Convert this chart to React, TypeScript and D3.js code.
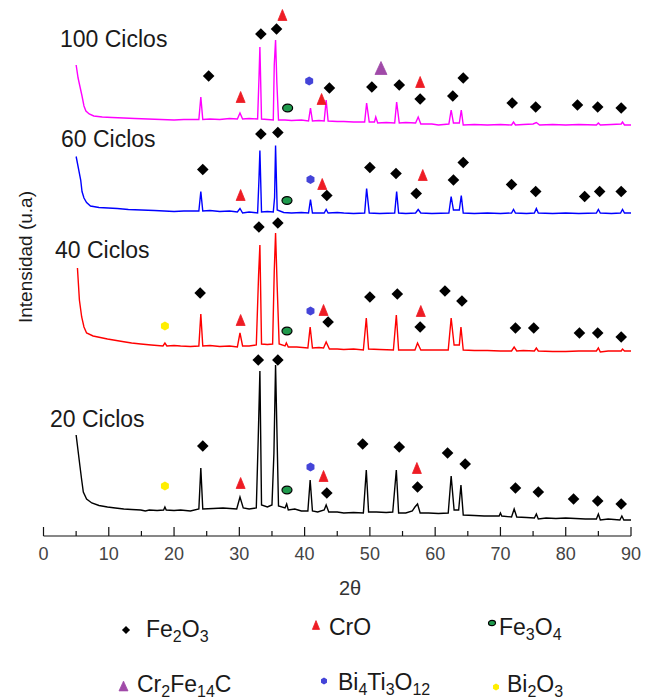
import React from "react";
import * as d3 from "d3";

// ---------- DATA ----------
const seriesNames = ["20 Ciclos", "40 Ciclos", "60 Ciclos", "100 Ciclos"];
const seriesOffsets = [16, 185, 322.5, 411];
const xTicks = [0, 10, 20, 30, 40, 50, 60, 70, 80, 90];

// [2θ, relative intensity (u.a)]
const xrd20: [number, number][] = [
  [5.0, 85], [5.6, 53], [5.85, 40], [6.1, 28], [6.6, 21], [7.4, 17], [8.5, 14.5], [9.8, 13],
  [11, 12], [12.3, 11], [13.5, 10.5], [14.9, 10], [15.6, 9], [16.2, 10], [17.4, 9.5],
  [18.4, 10], [18.6, 13], [18.8, 10], [20, 9.5], [21, 10], [22.5, 9], [23.8, 11], [24.1, 52],
  [24.4, 11], [26, 11.5], [27.5, 12], [29.6, 11], [30.1, 23], [30.6, 12], [31.5, 11],
  [32.6, 12], [32.9, 83], [33.15, 149], [33.4, 15], [34.3, 13], [35.0, 15], [35.3, 67],
  [35.55, 155], [35.75, 92], [36.0, 14], [37.0, 12], [37.25, 16], [37.5, 10], [38.5, 11],
  [39.5, 9], [40.5, 9], [40.85, 40], [41.2, 9], [42.0, 8], [43.0, 10], [43.3, 15], [43.7, 8],
  [45, 8], [46, 7], [47.5, 7.5], [49.0, 7], [49.45, 50], [49.8, 8], [51, 8], [52.5, 7.5],
  [53.5, 8], [54.05, 50], [54.4, 7], [55.5, 7], [56.5, 9], [56.9, 13], [57.3, 16], [57.7, 7],
  [59, 7], [60.5, 6.5], [62.0, 7], [62.45, 44], [62.9, 10], [63.6, 10], [63.95, 35], [64.3, 5],
  [66, 4.5], [67.5, 4], [69.8, 4], [70.0, 7], [70.2, 4], [71.7, 3], [72.1, 11], [72.5, 3],
  [74, 2.5], [75.2, 2], [75.5, 6], [75.8, 1], [77, 2], [78.5, 1.5], [80, 2], [81.5, 1.5],
  [83, 1], [84.7, 1], [85.0, 6], [85.3, 0], [86.5, 1], [88.3, 0], [88.6, 4], [88.9, 0], [90, 0]
];
const xrd40: [number, number][] = [
  [5.2, 83], [5.5, 51], [5.85, 34], [6.2, 24], [6.6, 18], [7.6, 15], [9.8, 12], [12.3, 9.3],
  [13.5, 8], [14.9, 7], [16.5, 6], [18.3, 5], [18.6, 8], [18.9, 5], [20, 5.5], [21, 5],
  [22.5, 4.5], [23.8, 5], [24.1, 37], [24.4, 5], [25.5, 5.5], [27, 4.5], [28.5, 5], [29.7, 4],
  [30.1, 18], [30.5, 5], [31.5, 5], [32.6, 6], [32.95, 76], [33.15, 106], [33.4, 7],
  [34.3, 6.5], [35.1, 7], [35.35, 80], [35.55, 118], [35.8, 64], [36.1, 7], [37.0, 5],
  [37.2, 8], [37.5, 4], [38.8, 4], [40.5, 3], [40.85, 24], [41.2, 3], [42.2, 3.5], [42.9, 3],
  [43.3, 9], [43.8, 2], [45, 2], [46, 1.5], [47.5, 2], [49.0, 1], [49.45, 33], [49.8, 2],
  [51.5, 1.5], [53.6, 1], [54.05, 36], [54.4, 1], [56.9, 1], [57.3, 8], [57.8, 1], [59.5, 1],
  [62.0, 1], [62.45, 33], [62.9, 6], [63.7, 6], [63.95, 24], [64.3, 1], [66, 0.5], [68, 0.5],
  [70, 0], [71.7, 0], [72.1, 4], [72.5, 0], [73.5, 0.5], [75.2, 0], [75.5, 3], [75.8, 0],
  [78, -0.5], [80, -0.5], [82, 0], [84.7, 0], [85.0, 3], [85.3, -1], [86.5, 0], [88.5, 0],
  [88.7, 2], [89, 0], [90, 0]
];
const xrd60: [number, number][] = [
  [5.0, 57], [5.7, 33.5], [5.9, 22], [6.2, 15.5], [6.6, 11], [7.2, 7.5], [8.5, 6], [11.3, 5],
  [13, 4], [15, 3.5], [17, 3], [20, 2], [21.5, 2.5], [23.8, 2.5], [24.1, 22], [24.4, 2.5],
  [25.5, 3], [27, 2], [28.5, 2.5], [29.7, 1.5], [30.1, 5], [30.5, 0.5], [31.5, 1.5],
  [32.8, 0.5], [33.0, 33], [33.15, 63], [33.4, 1.5], [34.3, 2], [35.2, 1.5], [35.4, 16],
  [35.55, 68], [35.8, 3.5], [36.8, 1], [38, 0.5], [39.5, 1], [40.6, 0.5], [40.9, 14],
  [41.2, 0.5], [43.0, 0.5], [43.3, 4], [43.6, 0.5], [45, 1], [46, 0.5], [47.5, 0], [49.2, 0.5],
  [49.5, 25], [49.9, 0.5], [51.5, 0], [53.8, 0.5], [54.1, 22], [54.4, 0.5], [55.5, 0],
  [57.0, 0.5], [57.4, 4], [57.8, 0.5], [59.5, 0], [62.1, 0.5], [62.45, 17], [62.8, 3.5],
  [63.7, 3.5], [64.0, 18], [64.3, 0.5], [66, 0], [68, 0.5], [70, 0], [71.7, 0.5], [72.0, 4],
  [72.3, 0.5], [74, 0], [75.2, 0.5], [75.5, 5], [75.8, 0.5], [78, 0], [80, 0.5], [82, 0],
  [84.7, 0.5], [85.0, 4], [85.3, 0.5], [87, 0], [88.4, 0.5], [88.7, 4], [89.0, 0.5], [90, 0.5]
];
const xrd100: [number, number][] = [
  [5.0, 60], [5.3, 47], [5.6, 38], [5.9, 29], [6.2, 19], [6.5, 14], [7.0, 11], [7.7, 9],
  [9, 8], [10.5, 7.5], [12.3, 7], [14, 6.5], [16, 6], [18, 5.5], [20, 5], [21.5, 5.5],
  [23.8, 5.5], [24.1, 28], [24.4, 5.5], [25.5, 6], [27, 5.5], [28.5, 6.5], [29.7, 6],
  [30.1, 12], [30.5, 6], [31.5, 6.5], [32.8, 6], [33.0, 45], [33.15, 78], [33.4, 6],
  [34.3, 5.5], [35.2, 5], [35.35, 60], [35.55, 85], [35.75, 42], [36.0, 5], [37, 5],
  [38, 4.5], [39.5, 5], [40.6, 4], [40.9, 17], [41.2, 4], [42.2, 4.5], [43.0, 4], [43.3, 25],
  [43.6, 4], [45, 3.5], [46, 3.5], [47.5, 3], [49.2, 3], [49.5, 22], [49.9, 3], [50.7, 3],
  [50.9, 8], [51.2, 2], [52.5, 2.5], [53.8, 2], [54.1, 23], [54.5, 2], [55.5, 2.5], [57.0, 2],
  [57.4, 8], [57.8, 1], [59.5, 1], [60.5, 0], [62.1, 1], [62.45, 15], [62.8, 2], [63.7, 2],
  [64.0, 15], [64.3, 0], [66, 0.5], [68, 0], [70, 0.5], [71.7, 0], [72.0, 3], [72.3, 0],
  [73.5, 0.5], [75.0, 1], [75.5, 2.5], [76.0, 0], [78, 0.5], [80, 0], [82, 0.5], [84.7, 0],
  [85.0, 2], [85.3, 0], [87, 0.5], [88.5, 1], [88.7, 3], [89.0, 0], [90, 0]
];
const xrdSeries = [xrd20, xrd40, xrd60, xrd100];

// phase markers: [series index, 2θ, relative intensity]
const fe2o3Marks: [number, number, number][] = [
  [0, 24.4, 74], [0, 32.9, 160], [0, 35.9, 160], [0, 43.4, 27], [0, 48.9, 76], [0, 54.5, 73],
  [0, 57.3, 33], [0, 61.9, 67], [0, 64.6, 56], [0, 72.3, 32], [0, 75.8, 28], [0, 81.2, 21],
  [0, 84.9, 19], [0, 88.5, 16],
  [1, 24.0, 58], [1, 33.0, 124], [1, 35.9, 128], [1, 43.6, 29], [1, 50.0, 54], [1, 54.2, 57],
  [1, 57.7, 24], [1, 61.5, 60], [1, 64.1, 50], [1, 72.3, 23], [1, 75.1, 23], [1, 82.1, 18],
  [1, 84.9, 18], [1, 88.5, 14],
  [2, 24.4, 44], [2, 33.3, 79.5], [2, 35.9, 81], [2, 43.4, 18], [2, 50.0, 46], [2, 54.0, 40],
  [2, 57.1, 20], [2, 62.8, 33.5], [2, 64.3, 51], [2, 71.7, 29], [2, 75.4, 22], [2, 82.9, 17],
  [2, 85.2, 22], [2, 88.5, 22],
  [3, 25.3, 49], [3, 33.3, 91], [3, 35.7, 96], [3, 43.8, 37], [3, 50.3, 38], [3, 54.5, 40],
  [3, 57.7, 26], [3, 62.7, 29], [3, 64.3, 47], [3, 71.8, 22], [3, 75.4, 18], [3, 81.8, 20],
  [3, 84.9, 18], [3, 88.5, 17]
];
const croMarks: [number, number, number][] = [
  [0, 30.2, 37], [0, 42.9, 44], [0, 57.2, 52],
  [1, 30.2, 31], [1, 42.9, 41], [1, 57.8, 40],
  [2, 30.2, 18.5], [2, 42.7, 29.5], [2, 58.1, 38.5],
  [3, 30.2, 28], [3, 36.6, 110], [3, 42.6, 26], [3, 57.7, 43]
];
const fe3o4Marks: [number, number, number][] = [
  [0, 37.3, 30], [1, 37.3, 20], [2, 37.3, 13], [3, 37.4, 17]
];
const bi4ti3o12Marks: [number, number, number][] = [
  [0, 40.9, 53], [1, 40.9, 40], [2, 40.9, 34], [3, 40.7, 44]
];
const bi2o3Marks: [number, number, number][] = [
  [0, 18.6, 34], [1, 18.6, 25]
];
const cr2fe14cMarks: [number, number, number][] = [
  [3, 51.7, 57]
];

// ---------- LAYOUT ----------
const W = 653;
const H = 699;
const seriesColors = ["#000000", "#ff0000", "#0000ff", "#ff00ff"];
const labelPos = [
  { x: 50, y: 427 },
  { x: 55, y: 258 },
  { x: 61, y: 147 },
  { x: 60, y: 47 }
];
const FONT = "'Liberation Sans', Arial, sans-serif";

const diamondPath = (s: number) => `M0,${-s} L${s},0 L0,${s} L${-s},0 Z`;
const triPath = (w: number, h: number) =>
  `M0,${-h / 2} L${w / 2},${h / 2} L${-w / 2},${h / 2} Z`;
const hexPath = (r: number) => {
  const pts = d3.range(6).map((i) => {
    const a = (Math.PI / 3) * i + Math.PI / 6;
    return `${(r * Math.cos(a)).toFixed(2)},${(r * Math.sin(a)).toFixed(2)}`;
  });
  return `M${pts.join(" L")} Z`;
};

function Marker({ kind, scale = 1 }: { kind: string; scale?: number }) {
  switch (kind) {
    case "fe2o3":
      return <path d={diamondPath(5.8 * scale)} fill="#000" />;
    case "cro":
      return <path d={triPath(9 * scale, 11 * scale)} fill="#ee1c24" stroke="#ee1c24" strokeWidth={0.8} strokeLinejoin="round" />;
    case "fe3o4":
      return <ellipse rx={5 * scale} ry={3.8 * scale} fill="#1f9a4c" stroke="#000" strokeWidth={1.2} />;
    case "bi4":
      return <path d={hexPath(4.6 * scale)} fill="#4444d8" />;
    case "bi2o3":
      return <path d={hexPath(4.6 * scale)} fill="#ffee00" />;
    case "cr2fe14c":
      return <path d={triPath(12 * scale, 13 * scale)} fill="#a04aa8" stroke="#a04aa8" strokeWidth={0.8} strokeLinejoin="round" />;
    default:
      return null;
  }
}

export default function App() {
  const x = d3.scaleLinear().domain([0, 90]).range([43.5, 631]);
  const y = d3.scaleLinear().domain([0, 530]).range([536, 6]);
  const axisY = y(0);

  const lineFor = (i: number) =>
    d3
      .line<[number, number]>()
      .x((d) => x(d[0]))
      .y((d) => y(d[1] + seriesOffsets[i]))(xrdSeries[i]) || "";

  const minorTicks = d3.range(5, 90, 10);

  const markerSets: [string, [number, number, number][]][] = [
    ["fe3o4", fe3o4Marks],
    ["bi4", bi4ti3o12Marks],
    ["bi2o3", bi2o3Marks],
    ["cro", croMarks],
    ["cr2fe14c", cr2fe14cMarks],
    ["fe2o3", fe2o3Marks]
  ];

  const sub = (t: string) => (
    <tspan fontSize={16} dy={5}>{t}</tspan>
  );
  const up = (t: string) => <tspan dy={-5}>{t}</tspan>;

  return (
    <svg
      width={W}
      height={H}
      style={{ position: "absolute", left: 0, top: 0, background: "#fff" }}
      fontFamily={FONT}
    >
      <rect width={W} height={H} fill="#fff" />

      {/* traces */}
      {xrdSeries.map((_, i) => (
        <path key={i} d={lineFor(i)} fill="none" stroke={seriesColors[i]} strokeWidth={1.4} strokeLinejoin="miter" />
      ))}

      {/* series labels */}
      {seriesNames.map((n, i) => (
        <text key={n} x={labelPos[i].x} y={labelPos[i].y} fontSize={23} fill="#1a1a1a">
          {n}
        </text>
      ))}

      {/* phase markers */}
      {markerSets.map(([kind, arr]) =>
        arr.map((m, j) => (
          <g key={kind + j} transform={`translate(${x(m[1])},${y(m[2] + seriesOffsets[m[0]])})`}>
            <Marker kind={kind} />
          </g>
        ))
      )}

      {/* x axis */}
      <line x1={x(0)} x2={x(90)} y1={axisY} y2={axisY} stroke="#111" strokeWidth={1.2} />
      {xTicks.map((t) => (
        <g key={t} transform={`translate(${x(t)},0)`}>
          <line y1={axisY} y2={axisY - 9} stroke="#111" strokeWidth={1.2} />
          <text y={560} textAnchor="middle" fontSize={18} fill="#444">
            {t}
          </text>
        </g>
      ))}
      {minorTicks.map((t) => (
        <line key={"m" + t} x1={x(t)} x2={x(t)} y1={axisY} y2={axisY - 5} stroke="#111" strokeWidth={1.2} />
      ))}
      <text x={350} y={595} textAnchor="middle" fontSize={20} fill="#333">
        2θ
      </text>

      {/* y axis title */}
      <text
        transform={`translate(32,257) rotate(-90)`}
        textAnchor="middle"
        fontSize={19}
        fill="#1a1a1a"
      >
        Intensidad (u.a)
      </text>

      {/* legend */}
      <g transform="translate(126,630)"><Marker kind="fe2o3" scale={0.7} /></g>
      <text x={146} y={637} fontSize={23} fill="#1a1a1a">
        Fe{sub("2")}{up("O")}{sub("3")}
      </text>
      <g transform="translate(316,625)"><Marker kind="cro" scale={0.8} /></g>
      <text x={329} y={635} fontSize={23} fill="#1a1a1a">CrO</text>
      <g transform="translate(492,623)"><Marker kind="fe3o4" scale={0.7} /></g>
      <text x={499} y={635} fontSize={23} fill="#1a1a1a">
        Fe{sub("3")}{up("O")}{sub("4")}
      </text>

      <g transform="translate(123.5,686)"><Marker kind="cr2fe14c" scale={0.75} /></g>
      <text x={137} y={692} fontSize={23} fill="#1a1a1a">
        Cr{sub("2")}{up("Fe")}{sub("14")}{up("C")}
      </text>
      <g transform="translate(324,681)"><Marker kind="bi4" scale={0.75} /></g>
      <text x={338} y={690} fontSize={23} fill="#1a1a1a">
        Bi{sub("4")}{up("Ti")}{sub("3")}{up("O")}{sub("12")}
      </text>
      <g transform="translate(496,687)"><Marker kind="bi2o3" scale={0.75} /></g>
      <text x={507} y={692} fontSize={23} fill="#1a1a1a">
        Bi{sub("2")}{up("O")}{sub("3")}
      </text>
    </svg>
  );
}
